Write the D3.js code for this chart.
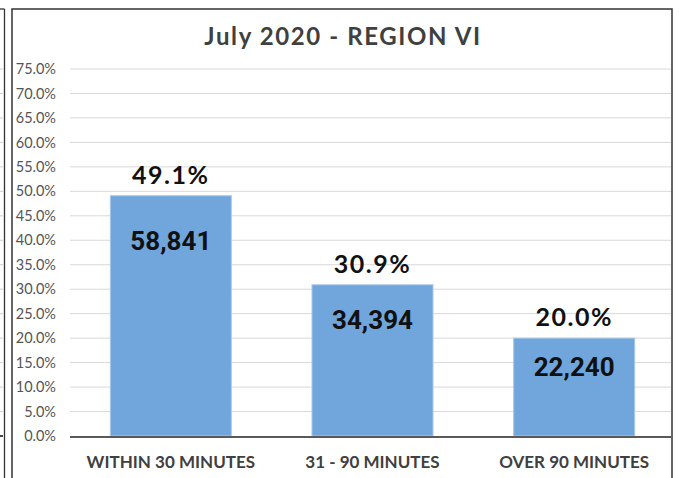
<!DOCTYPE html>
<html>
<head>
<meta charset="utf-8">
<script src="https://cdn.jsdelivr.net/npm/d3@7"></script>
<style>
  html, body { margin: 0; padding: 0; background: #fff; }
  svg { display: block; }
</style>
</head>
<body>
<svg id="chart" width="679" height="478"></svg>
<script>
// ---- data ----
const categories = ["WITHIN 30 MINUTES", "31 - 90 MINUTES", "OVER 90 MINUTES"];
const percents = [49.1, 30.9, 20.0];
const counts = [58841, 34394, 22240];
const yTicks = [0, 5, 10, 15, 20, 25, 30, 35, 40, 45, 50, 55, 60, 65, 70, 75];
const title = "July 2020 - REGION VI";

const svg = d3.select("#chart");
const W = 679, H = 478;

// plot geometry
const x0 = 70, x1 = 671;
const y = d3.scaleLinear().domain([0, 75]).range([436, 69]);
const x = d3.scaleBand().domain(categories).range([x0, 675]).paddingInner(0.4).paddingOuter(0.2);

// neighbouring chart fragment at far left
svg.append("line").attr("x1", 4.5).attr("x2", 4.5).attr("y1", 9).attr("y2", H)
  .attr("stroke", "#333").attr("stroke-width", 1.3);
svg.append("line").attr("x1", 0).attr("x2", 4.5).attr("y1", 9).attr("y2", 9)
  .attr("stroke", "#333").attr("stroke-width", 1.3);
svg.append("g").selectAll("line").data(yTicks.slice(1)).join("line")
  .attr("x1", 0).attr("x2", 3).attr("y1", d => y(d)).attr("y2", d => y(d))
  .attr("stroke", "#d0d0d0");
svg.append("line").attr("x1", 0).attr("x2", 3).attr("y1", y(0)).attr("y2", y(0))
  .attr("stroke", "#444").attr("stroke-width", 2);

// chart frame
svg.append("path")
  .attr("d", `M12,${H} L12,9 L672,9 L672,${H}`)
  .attr("fill", "none").attr("stroke", "#333").attr("stroke-width", 1.5);

// title
svg.append("text").attr("x", 343).attr("y", 45)
  .attr("text-anchor", "middle")
  .attr("font-family", "Lato, sans-serif").attr("font-weight", 700)
  .attr("font-size", 24).attr("letter-spacing", 1.6).attr("fill", "#404040")
  .text(title);

// gridlines
svg.append("g").selectAll("line").data(yTicks.slice(1)).join("line")
  .attr("x1", x0).attr("x2", x1)
  .attr("y1", d => y(d)).attr("y2", d => y(d))
  .attr("stroke", "#d9d9d9").attr("stroke-width", 1);

// y axis labels
const yAxis = d3.axisLeft(y).tickValues(yTicks).tickSize(0).tickPadding(0)
  .tickFormat(d => d.toFixed(1) + "%");
const gy = svg.append("g").attr("transform", "translate(56,0)").call(yAxis);
gy.select(".domain").remove();
gy.selectAll("text").attr("font-family", "Lato, sans-serif").attr("font-size", 14.5)
  .attr("fill", "#555").attr("font-weight", 400);

// bars
svg.append("g").selectAll("rect").data(categories).join("rect")
  .attr("x", d => x(d)).attr("width", x.bandwidth())
  .attr("y", (d, i) => y(percents[i]))
  .attr("height", (d, i) => y(0) - y(percents[i]))
  .attr("fill", "#70a6db").attr("stroke", "#a8c8ea").attr("stroke-width", 1);

// x axis line
svg.append("line").attr("x1", x0).attr("x2", x1).attr("y1", y(0) + 1).attr("y2", y(0) + 1)
  .attr("stroke", "#595959").attr("stroke-width", 2);

// category labels
const xAxis = d3.axisBottom(x).tickSize(0).tickPadding(0);
const gx = svg.append("g").attr("transform", "translate(0,468)").call(xAxis);
gx.select(".domain").remove();
gx.selectAll("text").attr("dy", 0)
  .attr("font-family", "Lato, sans-serif").attr("font-weight", 700)
  .attr("font-size", 17).attr("fill", "#404040");

// percent labels
svg.append("g").selectAll("text").data(categories).join("text")
  .attr("x", d => x(d) + x.bandwidth() / 2)
  .attr("y", (d, i) => y(percents[i]) - 12)
  .attr("text-anchor", "middle")
  .attr("font-family", "Lato, sans-serif").attr("font-weight", 700)
  .attr("font-size", 25).attr("letter-spacing", 1.5).attr("fill", "#111")
  .text((d, i) => percents[i].toFixed(1) + "%");

// count labels inside bars
const fmt = d3.format(",");
svg.append("g").selectAll("text").data(categories).join("text")
  .attr("x", d => x(d) + x.bandwidth() / 2)
  .attr("y", (d, i) => {
    const h = y(0) - y(percents[i]);
    return y(percents[i]) + 27 + 0.113 * h;
  })
  .attr("text-anchor", "middle")
  .attr("font-family", "Roboto, sans-serif").attr("font-weight", 700)
  .attr("font-size", 26).attr("fill", "#111")
  .text((d, i) => fmt(counts[i]));
</script>
</body>
</html>
